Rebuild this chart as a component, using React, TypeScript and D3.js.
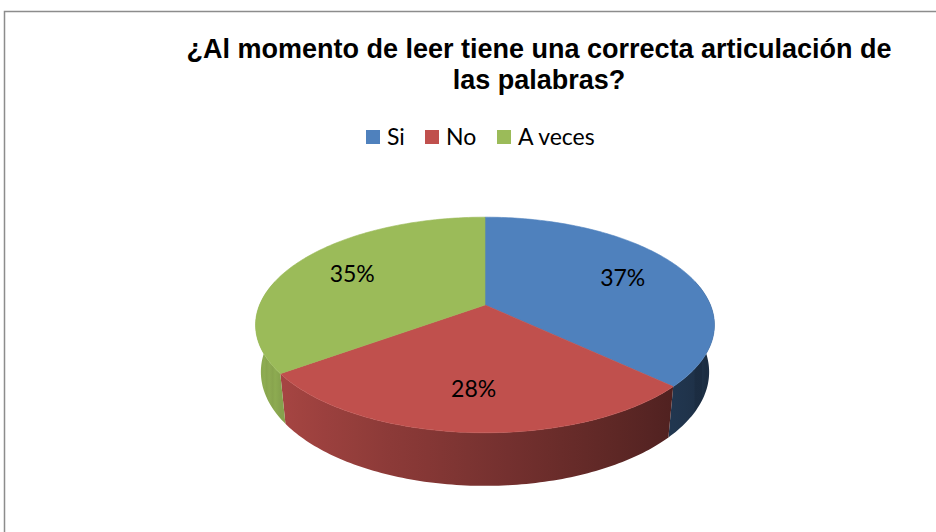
import React from 'react';
import * as d3 from 'd3';

const categories = ['Si', 'No', 'A veces'];
const values = [37, 28, 35];
const colors = ['#4f81bd', '#c0504d', '#9bbb59'];
const titleLines = ['¿Al momento de leer tiene una correcta articulación de', 'las palabras?'];

const W = 936;
const H = 532;

// 3D projection of the pie (top face at w=0, bottom at w=-thick)
const hubX = 485;
const hubY = 305;
const focal = 1080;
const dist = 4.79;
const tilt = (27.5 * Math.PI) / 180;
const thick = 0.237;

const proj = (theta: number, r: number, w: number): [number, number] => {
  const u = r * Math.sin(theta);
  const v = -r * Math.cos(theta);
  const zc = dist - v * Math.cos(tilt) - w * Math.sin(tilt);
  return [hubX + (focal * u) / zc, hubY + (focal * (v * Math.sin(tilt) - w * Math.cos(tilt))) / zc];
};

// sides facing the camera
const frontLim = Math.acos(-1 / (dist * Math.cos(tilt)));
const front0 = Math.PI - frontLim;
const front1 = Math.PI + frontLim;

const shade = (base: string, theta: number) => {
  const k = Math.max(0.3, Math.min(0.95, 0.63 - 0.29 * Math.sin(theta)));
  const c = d3.rgb(base);
  return d3.rgb(c.r * k, c.g * k, c.b * k).formatHex();
};

const arcPts = (a0: number, a1: number, r: number, w: number) => {
  const n = Math.max(2, Math.ceil(((a1 - a0) * 180) / Math.PI));
  return d3.range(n + 1).map((i) => proj(a0 + ((a1 - a0) * i) / n, r, w));
};

export default function App() {
  const arcs = d3.pie<number>().sort(null).startAngle(0).endAngle(2 * Math.PI)(values);
  const line = d3.line();

  const walls = arcs
    .map((a, i) => {
      const s = Math.max(a.startAngle, front0);
      const e = Math.min(a.endAngle, front1);
      if (e <= s) return null;
      const top = arcPts(s, e, 1, 0);
      const bot = arcPts(s, e, 1, -thick).reverse();
      const xs = top.map((p) => p[0]);
      const x0 = d3.min(xs) as number;
      const x1 = d3.max(xs) as number;
      const stops = d3.range(13).map((k) => {
        const t = s + ((e - s) * k) / 12;
        const px = proj(t, 1, 0)[0];
        return { off: (px - x0) / (x1 - x0), col: shade(colors[i], t) };
      });
      stops.sort((p, q) => p.off - q.off);
      return { i, d: line([...top, ...bot]) + 'Z', x0, x1, stops };
    })
    .filter(Boolean) as { i: number; d: string; x0: number; x1: number; stops: { off: number; col: string }[] }[];

  const tops = arcs.map((a, i) => ({
    i,
    d: line([[hubX, hubY], ...arcPts(a.startAngle, a.endAngle, 1, 0)]) + 'Z',
  }));

  const pctFmt = d3.format('.0%');
  const total = d3.sum(values);
  const labels = arcs.map((a, i) => {
    const mid = (a.startAngle + a.endAngle) / 2;
    const [x, y] = proj(mid, 0.7, 0);
    return { i, x, y, text: pctFmt(values[i] / total) };
  });

  const legendX = d3.scaleOrdinal<string, number>().domain(categories).range([366, 425, 497]);

  return (
    <svg width={W} height={H} style={{ position: 'absolute', left: 0, top: 0, background: '#fff' }}>
      <defs>
        {walls.map((w) => (
          <linearGradient key={w.i} id={`wall${w.i}`} gradientUnits="userSpaceOnUse" x1={w.x0} x2={w.x1} y1={0} y2={0}>
            {w.stops.map((s, k) => (
              <stop key={k} offset={s.off} stopColor={s.col} />
            ))}
          </linearGradient>
        ))}
      </defs>
      <rect x={4.5} y={11.5} width={W} height={H} fill="#fff" stroke="#8c8c8c" strokeWidth={1.5} />

      <g fontFamily="'Liberation Sans', Arial, sans-serif" fontWeight="bold" fontSize={27} textAnchor="middle" fill="#000">
        {titleLines.map((t, k) => (
          <text key={k} x={539} y={58 + k * 31}>
            {t}
          </text>
        ))}
      </g>

      <g fontFamily="Lato, 'Open Sans', sans-serif" fontSize={23} fill="#000">
        {categories.map((c, i) => (
          <g key={c}>
            <rect x={legendX(c)} y={130} width={14} height={14} fill={colors[i]} />
            <text x={legendX(c) + 21} y={145}>
              {c}
            </text>
          </g>
        ))}
      </g>

      {walls.map((w) => (
        <path key={w.i} d={w.d} fill={`url(#wall${w.i})`} />
      ))}
      {tops.map((t) => (
        <path key={t.i} d={t.d} fill={colors[t.i]} stroke={colors[t.i]} strokeWidth={0.6} strokeLinejoin="round" />
      ))}

      <g fontFamily="Lato, 'Open Sans', sans-serif" fontSize={23} fill="#000" textAnchor="middle">
        {labels.map((l) => (
          <text key={l.i} x={l.x} y={l.y} dy="0.35em">
            {l.text}
          </text>
        ))}
      </g>
    </svg>
  );
}
